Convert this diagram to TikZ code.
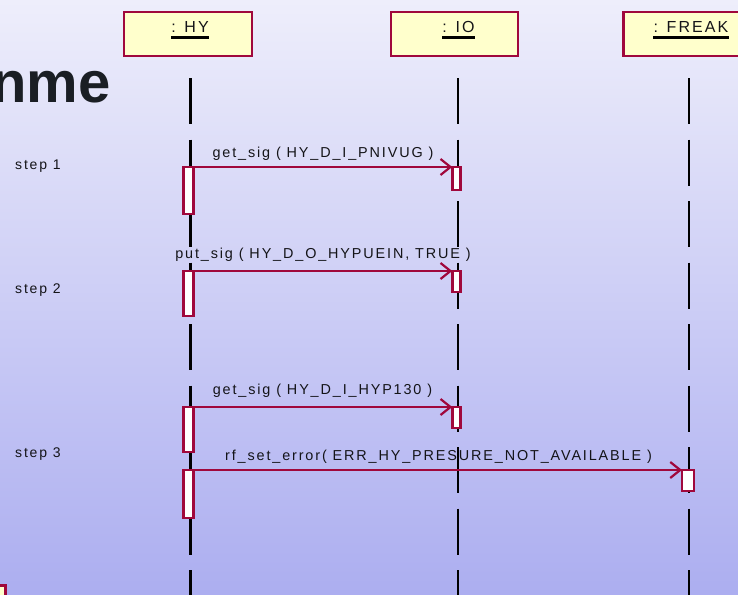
\documentclass[tikz,border=0pt]{standalone}
\usepackage{fontspec}
\setmainfont{Liberation Sans}
\newfontfamily\spfont[LetterSpace=13]{Liberation Sans}
\usetikzlibrary{arrows.meta}
\definecolor{bgtop}{RGB}{238,238,251}
\definecolor{bgbot}{RGB}{172,174,240}
\definecolor{crim}{RGB}{160,8,60}
\definecolor{boxyel}{RGB}{255,255,204}
\definecolor{txt}{RGB}{20,20,24}
\definecolor{titlecol}{RGB}{26,30,36}
\begin{document}
\begin{tikzpicture}[x=1pt,y=-1pt,
  objbox/.style={draw=crim,fill=boxyel,line width=2.5pt,minimum width=128pt,minimum height=44pt,inner sep=0pt,outer sep=0pt},
  hdrtext/.style={font=\spfont\fontsize{16}{18}\selectfont,text=txt,anchor=base,inner sep=0pt},
  act/.style={draw=crim,fill=white,line width=2.5pt,inner sep=0pt,outer sep=0pt,anchor=north},
  life/.style={draw=black,line width=2.5pt,dash pattern=on 46pt off 15.5pt},
  msg/.style={draw=crim,line width=2.2pt,-{Straight Barb[length=10pt,width=16pt,line width=2.2pt]}},
  msgtext/.style={font=\spfont\fontsize{14.4}{16}\selectfont,text=txt,anchor=base,inner sep=0pt},
  steptext/.style={font=\spfont\fontsize{14}{16}\selectfont,text=txt,anchor=base west,inner sep=0pt},
  uline/.style={draw=black,line width=2.5pt}]
\useasboundingbox (0,0) rectangle (738,594);
\clip (0,0) rectangle (738,594);
\shade[top color=bgtop,bottom color=bgbot] (0,0) rectangle (738,594);

% title fragment
\node[anchor=base east,inner sep=0pt,font=\bfseries\fontsize{58}{60}\selectfont,text=titlecol] (title) at (111,102) {nme};

% object boxes
\node[objbox] (hy) at (188,34) {};
\node[objbox,minimum width=127pt] (io) at (454.5,34) {};
\node[objbox,minimum width=131pt] (fr) at (689,34) {};
\node[hdrtext] (hyt) at (190,33) {: HY};
\node[hdrtext] (iot) at (458.5,33) {: IO};
\node[hdrtext] (frt) at (691,33) {: FREAK};
\draw[uline] ([yshift=-4.5pt]hyt.base west) -- ([yshift=-4.5pt]hyt.base east);
\draw[uline] ([yshift=-4.5pt]iot.base west) -- ([yshift=-4.5pt]iot.base east);
\draw[uline] ([yshift=-4.5pt]frt.base west) -- ([yshift=-4.5pt]frt.base east);

% bottom-left partial box
\node[objbox,anchor=north east] (other) at (5.5,585.5) {};

% lifelines
\coordinate (hy0) at (190.5,78);  \coordinate (hy1) at (190.5,600);
\coordinate (io0) at (458,78);    \coordinate (io1) at (458,600);
\coordinate (fr0) at (689,78);    \coordinate (fr1) at (689,600);
\draw[life] (hy0) -- (hy1);
\draw[life] (io0) -- (io1);
\draw[life] (fr0) -- (fr1);

% activations
\node[act,minimum width=10pt,minimum height=47pt] (a1) at (188.5,167) {};
\node[act,minimum width=8pt,minimum height=23pt] (b1) at (456.3,167) {};
\node[act,minimum width=10pt,minimum height=45pt] (a2) at (188.5,271) {};
\node[act,minimum width=8pt,minimum height=21pt] (b2) at (456.3,271) {};
\node[act,minimum width=10pt,minimum height=45pt] (a3) at (188.5,407) {};
\node[act,minimum width=8pt,minimum height=21pt] (b3) at (456.3,407) {};
\node[act,minimum width=10pt,minimum height=48pt] (a4) at (188.5,470) {};
\node[act,minimum width=12pt,minimum height=21pt] (c4) at (688,470) {};

% messages
\draw[msg] (a1.north east) -- (b1.north west);
\draw[msg] (a2.north east) -- (b2.north west);
\draw[msg] (a3.north east) -- (b3.north west);
\draw[msg] (a4.north east) -- (c4.north west);

\node[msgtext] (m1) at (323,157) {get\_sig ( HY\_D\_I\_PNIVUG )};
\node[msgtext] (m2) at (323,258) {put\_sig ( HY\_D\_O\_HYPUEIN, TRUE )};
\node[msgtext] (m3) at (322.5,394) {get\_sig ( HY\_D\_I\_HYP130 )};
\node[msgtext] (m4) at (438.5,460) {rf\_set\_error( ERR\_HY\_PRESURE\_NOT\_AVAILABLE )};

% steps
\node[steptext] (s1) at (15,169) {step 1};
\node[steptext] (s2) at (15,293) {step 2};
\node[steptext] (s3) at (15,457) {step 3};
\end{tikzpicture}
\end{document}
